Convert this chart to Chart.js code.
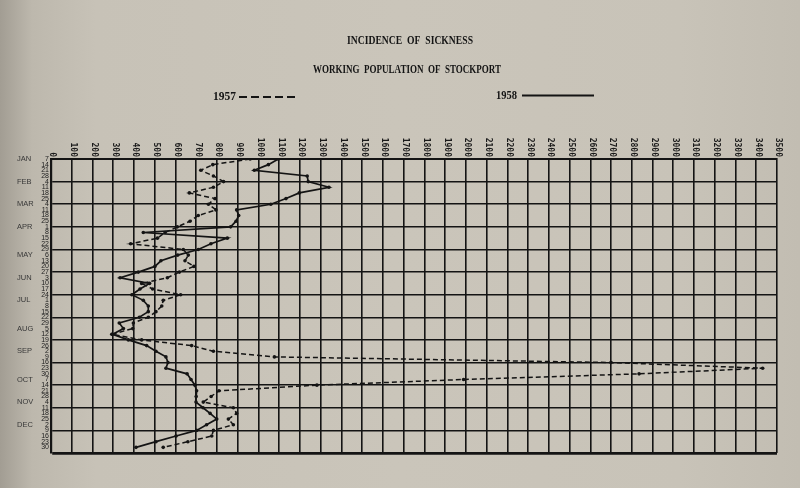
<!DOCTYPE html>
<html>
<head>
<meta charset="utf-8">
<script src="https://cdn.jsdelivr.net/npm/chart.js@4.4.0/dist/chart.umd.min.js"></script>
<style>
  html, body { margin: 0; padding: 0; }
  body {
    width: 800px; height: 488px; overflow: hidden;
    background: linear-gradient(to right, #a29d93 0%, #bdb8ad 4%, #c7c2b7 12%, #cac5ba 50%, #c8c3b8 85%, #c2bdb2 100%);
  }
  canvas { display: block; }
</style>
</head>
<body>
<canvas id="c" width="800" height="488"></canvas>
<script>
// ---- data ----
const months = ['JAN','FEB','MAR','APR','MAY','JUN','JUL','AUG','SEP','OCT','NOV','DEC'];
const monthStart = [0, 4, 8, 12, 17, 21, 25, 30, 34, 39, 43, 47];
const days = ['7','14','21','28','4','11','18','25','4','11','18','25','1','8','15','22','29',
              '6','13','20','27','3','10','17','24','1','8','15','22','29','5','12','19','26',
              '2','9','16','23','30','7','14','21','28','4','11','18','25','2','9','16','23','30'];
const xTickLabels = ['0','100','200','300','400','500','600','700','800','900','1000','1100','1200',
                     '1300','1400','1500','1600','1700','1800','1900','2000','2100','2200','2300',
                     '2400','2500','2600','2700','2800','2900','3000','3100','3200','3300','3400','3500'];
const sick1957 = [960, 780, 722, 783, 832, 783, 667, 791, 759, 795, 710, 670, 609, 550, 513, 384,
                  638, 662, 646, 689, 619, 561, 437, 490, 625, 541, 534, 506, 469, 397, 394, 293,
                  437, 678, 783, 1077, 2700, 3431, 2835, 1989, 1282, 810, 772, 734, 879, 895, 855,
                  879, 783, 775, 660, 541];
const sick1958 = [1096, 1048, 980, 1235, 1240, 1340, 1197, 1133, 1060, 895, 905, 892, 866, 445,
                  850, 771, 710, 611, 530, 501, 421, 333, 475, 429, 390, 445, 469, 469, 426, 329,
                  349, 297, 373, 461, 506, 554, 564, 554, 656, 675, 694, 702, 700, 699, 733, 767,
                  799, 750, 702, 603, 506, 410];
const titleText = 'INCIDENCE  OF  SICKNESS';
const subtitleText = 'WORKING  POPULATION  OF  STOCKPORT';
const legendLabels = ['1957', '1958'];

const ink = '#141414';

function fitText(ctx, text, x, y, target, font, align) {
  ctx.save();
  ctx.font = font;
  const w = ctx.measureText(text).width;
  const sx = target / w;
  ctx.translate(x, y);
  ctx.scale(sx, 1);
  ctx.textAlign = align;
  ctx.textBaseline = 'middle';
  ctx.fillText(text, 0, 0);
  ctx.restore();
}

const textPlugin = {
  id: 'texts',
  afterDraw(chart) {
    const ctx = chart.ctx;
    const xs = chart.scales.x;
    const top = chart.chartArea.top;
    ctx.save();
    ctx.fillStyle = '#1a1a1a';
    ctx.font = 'bold 8px "DejaVu Sans Mono"';
    ctx.textAlign = 'right';
    ctx.textBaseline = 'middle';
    xTickLabels.forEach(lbl => {
      const px = xs.getPixelForValue(Number(lbl));
      ctx.save();
      ctx.translate(px + 1.5, top - 2);
      ctx.rotate(Math.PI / 2);
      ctx.fillText(lbl, 0, 0);
      ctx.restore();
    });
    ctx.fillStyle = '#141414';
    fitText(ctx, titleText, 410, 41, 126, 'bold 12px "Liberation Serif"', 'center');
    fitText(ctx, subtitleText, 407, 70, 188, 'bold 12px "Liberation Serif"', 'center');
    fitText(ctx, legendLabels[0], 213, 97, 23, 'bold 12px "Liberation Serif"', 'left');
    fitText(ctx, legendLabels[1], 496, 96, 21, 'bold 12px "Liberation Serif"', 'left');
    ctx.strokeStyle = '#141414';
    ctx.lineWidth = 2;
    ctx.setLineDash([8, 4]);
    ctx.beginPath(); ctx.moveTo(239, 97); ctx.lineTo(298, 97); ctx.stroke();
    ctx.setLineDash([]);
    ctx.beginPath(); ctx.moveTo(522, 95.5); ctx.lineTo(594, 95.5); ctx.stroke();
    ctx.restore();
  }
};

const allWeeks = days.map((d, i) => i).concat([days.length]);

new Chart(document.getElementById('c'), {
  type: 'line',
  data: {
    datasets: [
      {
        label: '1957',
        data: sick1957.map((v, i) => ({ x: v, y: i })),
        borderColor: ink,
        backgroundColor: ink,
        borderWidth: 1.5,
        borderDash: [5, 3],
        pointRadius: 1.8,
        pointBackgroundColor: ink,
        pointBorderWidth: 0,
        tension: 0
      },
      {
        label: '1958',
        data: sick1958.map((v, i) => ({ x: v, y: i })),
        borderColor: ink,
        backgroundColor: ink,
        borderWidth: 1.7,
        pointRadius: 1.8,
        pointBackgroundColor: ink,
        pointBorderWidth: 0,
        tension: 0
      }
    ]
  },
  options: {
    responsive: false,
    devicePixelRatio: 1,
    animation: false,
    layout: { autoPadding: false, padding: { left: 17, top: 159, right: 23, bottom: 35 } },
    plugins: { legend: { display: false }, tooltip: { enabled: false }, title: { display: false } },
    scales: {
      x: {
        type: 'linear', position: 'top', min: 0, max: 3500,
        ticks: { stepSize: 100, display: false },
        grid: { color: ink, lineWidth: 1.6, drawTicks: false },
        border: { display: true, color: ink, width: 2 },
        afterFit: s => { s.height = 0; }
      },
      y: {
        type: 'linear', position: 'left', min: 0, max: 52, reverse: true, weight: 0,
        afterBuildTicks: s => { s.ticks = allWeeks.map(v => ({ value: v })); },
        ticks: {
          autoSkip: false, padding: 2, color: '#222222',
          font: { family: 'Liberation Sans', size: 7 },
          callback: v => (days[v] !== undefined ? days[v] : '')
        },
        grid: {
          drawTicks: false,
          color: c => (c.tick && c.tick.value % 4 === 0 ? ink : 'rgba(0,0,0,0)'),
          lineWidth: c => (c.tick && c.tick.value === 52 ? 2.8 : 1.6)
        },
        border: { display: true, color: ink, width: 2.2 },
        afterFit: s => { s.width = 14; }
      },
      m: {
        type: 'linear', position: 'left', min: 0, max: 52, reverse: true, weight: 1,
        afterBuildTicks: s => { s.ticks = monthStart.map(v => ({ value: v })); },
        ticks: {
          autoSkip: false, crossAlign: 'far', padding: 0, color: '#383838',
          font: { family: 'Liberation Sans', size: 7.5 },
          callback: v => months[monthStart.indexOf(v)]
        },
        grid: { display: false },
        border: { display: false },
        afterFit: s => { s.width = 20; }
      }
    }
  },
  plugins: [textPlugin]
});
</script>
</body>
</html>
